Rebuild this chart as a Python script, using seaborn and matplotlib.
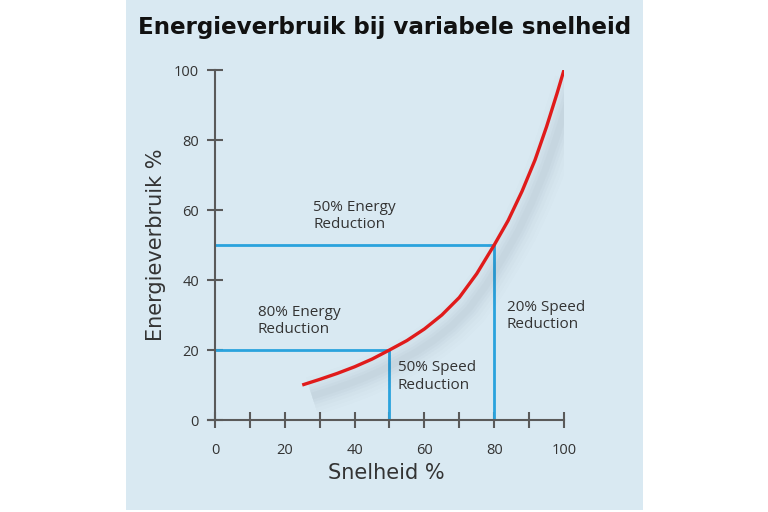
import matplotlib
matplotlib.use("Agg")
import matplotlib.pyplot as plt
import matplotlib.patheffects as pe
from matplotlib.patches import Rectangle
import seaborn as sns
import pandas as pd

# ---- data ----
speed = [25, 30, 35, 40, 45, 50, 55, 60, 65, 70, 75, 80, 84, 88, 91.7, 95, 98, 100]
energy = [10, 11.6, 13.3, 15.2, 17.4, 20, 22.7, 26, 30, 35, 41.8, 50, 57, 65.4, 74.3, 83.8, 93.3, 100]
ref_speed = [50, 80]
ref_energy = [20, 50]
x_ticks = [0, 10, 20, 30, 40, 50, 60, 70, 80, 90, 100]
x_labels = ["0", "", "20", "", "40", "", "60", "", "80", "", "100"]
y_ticks = [0, 20, 40, 60, 80, 100]
notes = ["50% Energy\nReduction", "80% Energy\nReduction",
         "50% Speed\nReduction", "20% Speed\nReduction"]
note_x = [28.1, 12.3, 52.4, 83.6]
note_y = [58.3, 28.3, 12.4, 29.7]

title = "Energieverbruik bij variabele snelheid"
xlabel = "Snelheid %"
ylabel = "Energieverbruik %"

df = pd.DataFrame({"speed": speed, "energy": energy})

sns.set_theme(style="white")
plt.rcParams["font.family"] = ["DejaVu Sans"]

W, H = 768, 512
fig = plt.figure(figsize=(W / 100, H / 100), dpi=100)
fig.patch.set_facecolor("white")

panel_col = "#d9e9f2"
fig.patches.append(Rectangle((126 / W, 2 / H), (643 - 126) / W, 1 - 2 / H,
                             transform=fig.transFigure, facecolor=panel_col,
                             edgecolor="none", zorder=-10))

left, right = 208 / W, 564 / W
bottom, top = (H - 420) / H, (H - 70) / H
ax = fig.add_axes([left, bottom, right - left, top - bottom])
ax.set_facecolor("none")
ax.set_xlim(-2, 100)
ax.set_ylim(0, 100)

axis_col = "#5a5a5a"
for s in ["top", "right"]:
    ax.spines[s].set_visible(False)
ax.spines["left"].set_position(("data", 0))
for s in ["left", "bottom"]:
    ax.spines[s].set_color(axis_col)
    ax.spines[s].set_linewidth(1.5)

# reference lines
blue = "#2aa3dd"
for s, e in zip(ref_speed, ref_energy):
    ax.plot([0, s, s], [e, e, 0], color=blue, lw=2, zorder=2, solid_joinstyle="miter")

# curve with soft shadow
shadow = []
for lw, a in [(28, 0.01), (23, 0.013), (18, 0.016), (13, 0.02), (9, 0.022), (5, 0.025)]:
    shadow.append(pe.SimpleLineShadow(offset=(7, -8), shadow_color="#34475a",
                                      alpha=a, linewidth=lw))
shadow.append(pe.Normal())
sns.lineplot(data=df, x="speed", y="energy", ax=ax, color="#e01b1b", lw=2.4,
             zorder=3, path_effects=shadow)
ax.lines[-1].set_solid_capstyle("butt")
ax.lines[-1].set_solid_joinstyle("round")

ax.set_xticks(x_ticks)
ax.set_xticklabels(x_labels)
ax.set_yticks(y_ticks)
ax.tick_params(axis="both", direction="inout", length=11, width=1.5,
               color=axis_col, labelcolor="#333333", labelsize=10.5,
               bottom=True, left=True)
ax.tick_params(axis="x", pad=11)
ax.tick_params(axis="y", pad=6)
for lab in ax.get_xticklabels() + ax.get_yticklabels():
    lab.set_fontfamily(["Open Sans", "DejaVu Sans"])

ax.set_xlabel(xlabel, fontsize=15, color="#333333", labelpad=4)
ax.set_ylabel(ylabel, fontsize=15, color="#333333", labelpad=6)

for t, x, y in zip(notes, note_x, note_y):
    ax.text(x, y, t, ha="left", va="center", fontsize=11, color="#333333",
            linespacing=1.25, family=["Open Sans", "DejaVu Sans"], zorder=4)

fig.text(0.501, 0.947, title, ha="center", va="center", fontsize=16.6,
         fontweight="bold", color="#111111")

fig.savefig("out.png", dpi=100, facecolor="white")
